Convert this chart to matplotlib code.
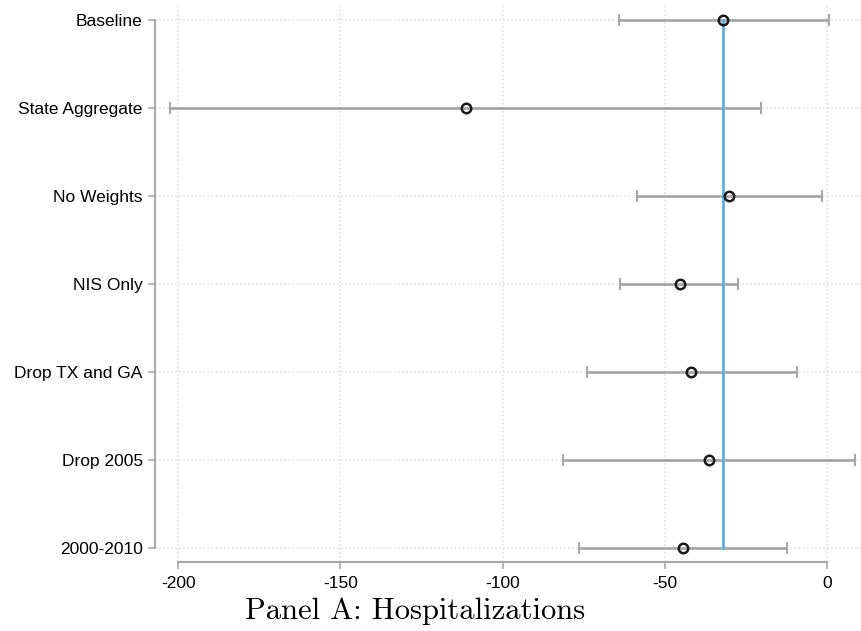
import matplotlib.pyplot as plt

# ==========================
# DADOS
# ==========================
categorias = ["Baseline", "State Aggregate", "No Weights", "NIS Only",
              "Drop TX and GA", "Drop 2005", "2000-2010"]
estimativas = [-32.0, -111.4, -30.2, -45.4, -42.0, -36.4, -44.4]
ic_inf = [-64.2, -202.5, -58.6, -63.9, -74.0, -81.5, -76.5]
ic_sup = [0.6, -20.4, -1.5, -27.5, -9.3, 8.6, -12.3]
xticks = [-200, -150, -100, -50, 0]
ref_baseline = -32.0
titulo = "Panel A: Hospitalizations"

# ==========================
# FIGURA
# ==========================
fig = plt.figure(figsize=(8.62, 6.31), dpi=100)
ax = fig.add_axes([0.18, 0.109, 0.82, 0.883])

ypos = list(range(len(categorias)))
cinza = "#a8a8a8"

err = [[e - lo for e, lo in zip(estimativas, ic_inf)],
       [hi - e for e, hi in zip(estimativas, ic_sup)]]
ax.errorbar(estimativas, ypos, xerr=err, fmt="none", ecolor=cinza,
            elinewidth=2, capsize=4, capthick=1.5, zorder=2)

ax.plot([ref_baseline, ref_baseline], [ypos[0], ypos[-1]],
        color="#5aaee0", linewidth=2, zorder=3)

ax.plot(estimativas, ypos, "o", markersize=6.8, markerfacecolor="none",
        markeredgecolor="#1a1a1a", markeredgewidth=1.8, zorder=4)

ax.set_xlim(-207.1, 10.8)
ax.set_ylim(6.16, -0.17)
ax.set_yticks(ypos)
ax.set_yticklabels(categorias, fontname="Liberation Sans", fontsize=12.5)
ax.set_xticks(xticks)
ax.set_xticklabels([str(v) for v in xticks], fontname="Liberation Sans", fontsize=12.5)

ax.grid(True, linestyle=":", color="#dcdcdc", linewidth=1.1, zorder=0)
ax.set_axisbelow(True)

for lado in ["top", "right"]:
    ax.spines[lado].set_visible(False)
ax.spines["left"].set_bounds(ypos[0], ypos[-1])
ax.spines["bottom"].set_bounds(xticks[0], xticks[-1])
for lado in ["left", "bottom"]:
    ax.spines[lado].set_color(cinza)
    ax.spines[lado].set_linewidth(1.5)
ax.tick_params(axis="both", colors=cinza, length=5, width=1.2, labelcolor="black")
ax.tick_params(axis="y", pad=4)
ax.tick_params(axis="x", pad=5)

fig.text(415 / 862, 1 - 611 / 631, titulo, fontname="cmr10", fontsize=22,
         ha="center", va="center")

fig.savefig("out.png", dpi=100)
